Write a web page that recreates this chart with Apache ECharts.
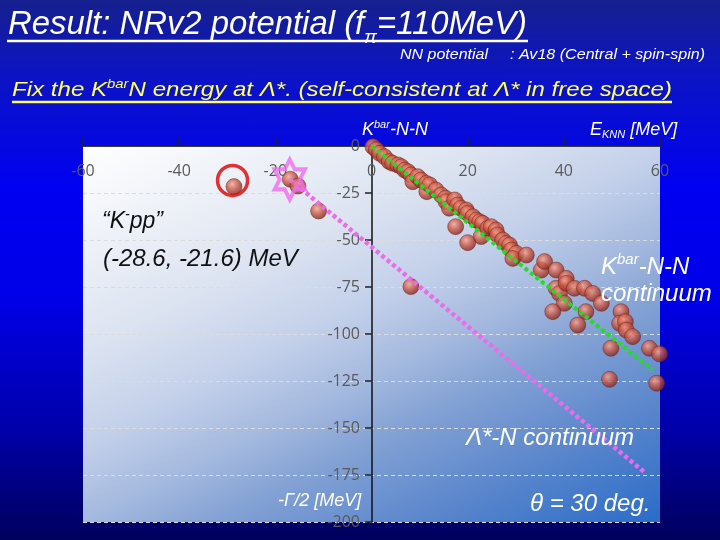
<!DOCTYPE html>
<html>
<head>
<meta charset="utf-8">
<script src="https://cdn.jsdelivr.net/npm/echarts@6/dist/echarts.min.js"></script>
<style>
html,body{margin:0;padding:0;}
body{background:linear-gradient(to bottom,#16208e 0%,#0c14c4 14%,#0000f2 35%,#0000e8 55%,#0000a8 80%,#00005e 100%);}
#main{width:720px;height:540px;}
</style>
</head>
<body>
<div id="main"></div>
<script>
var chart = echarts.init(document.getElementById('main'));

// eigenvalues: E_KNN [MeV] and -Γ/2 [MeV]
var pointE = [-28.6, -16.9, -15.3, -11,
  0.3, 1, 1.7, 2.7, 3.7, 4.4, 5.5, 6.2, 6.9, 7.6, 8.2, 8.6, 9.6, 10.3, 11.4, 11.5, 12.1, 13.4,
  14.5, 15.4, 15.5, 16.2, 17.3, 17.9, 18.6, 19.7, 20, 21.1, 21.8, 22.5, 23.1, 22.8, 24.2, 24.9,
  25.9, 26.2, 27.3, 28, 28.7, 29.1, 30.1, 29.4, 32.2, 35.3, 36, 38.4, 38.4, 39.1, 40.1, 40.5,
  40.5, 42.2, 44.3, 44.6, 46, 47.8, 37.7, 42.9, 51.9, 51.6, 52.8, 53, 54.3, 49.8, 57.8, 59.9,
  49.5, 59.3, 17.5, 20, 8.2];
var pointG = [-21.6, -17.7, -21.3, -34.6,
  -0.4, -2, -3.9, -5.7, -8.3, -9.2, -10.1, -11, -12.8, -13.7, -15.4, -19, -16.3, -18.1, -19.9, -24.3, -20.7, -23.4,
  -26.1, -27.8, -29.6, -33.1, -28.7, -31.4, -33.1, -34, -35.8, -37.6, -39.4, -40.3, -41.1, -48.2, -43.8, -42.9,
  -44.7, -47.3, -50, -51.8, -52.7, -55.3, -57.1, -59.8, -58, -66, -61.5, -66, -75.7, -78.4, -83.7, -70.4,
  -73, -75.7, -75.7, -88.1, -78.4, -83.7, -88.1, -95.2, -88.1, -94.3, -93.4, -97.9, -101.4, -107.6, -107.6, -110.6,
  -124.1, -126.2, -42.9, -51.4, -74.8];

// K-pp resonance (circled) and Λ* position (star)
var kppMark = [-28.9, -18.3];
var lambdaStar = [-17, -17.8];

// continuum lines
var lambdaLineE = [-17, 57];
var lambdaLineG = [-17.8, -174];
var knnLineE = [0, 58.4];
var knnLineG = [0, -119];

var xMin = -60, xMax = 60, xStep = 20;
var yMin = -200, yMax = 0, yStep = 25;

var pts = pointE.map(function (e, i) { return [e, pointG[i]]; });

var ctx = document.createElement('canvas').getContext('2d');
function textWidth(font, s) { ctx.font = font; return ctx.measureText(s).width; }

// text made of pieces [text, size, dy]; stretched to width if given
function run(x, y, parts, color, width) {
  var family = '"Liberation Sans", Arial, sans-serif';
  var total = 0;
  parts.forEach(function (p) { total += textWidth('italic ' + p[1] + 'px ' + family, p[0]); });
  var s = width ? width / total : 1;
  var els = [];
  parts.forEach(function (p) {
    var font = 'italic ' + p[1] + 'px ' + family;
    els.push({
      type: 'text', x: x, y: y + p[2], z: 100, scaleX: s,
      style: { text: p[0], font: font, fill: color, verticalAlign: 'middle', textVerticalAlign: 'middle' }
    });
    x += textWidth(font, p[0]) * s;
  });
  return { els: els, end: x };
}

var graphics = [];

var title = run(8, 25, [['Result: NRv2 potential (f', 33, 0], ['\u03c0', 19, 13], ['=110MeV)', 33, 0]], '#ffffff', 519);
graphics = graphics.concat(title.els);
graphics.push({ type: 'line', z: 100, shape: { x1: 7, y1: 41, x2: 528, y2: 41 }, style: { stroke: '#ffffff', lineWidth: 2.5 } });

graphics = graphics.concat(run(400, 55, [['NN potential', 14, 0]], '#ffffff', 88).els);
graphics = graphics.concat(run(510, 55, [[': Av18 (Central + spin-spin)', 14, 0]], '#ffffff', 195).els);

var fix = run(12, 90, [['Fix the K', 21, 0], ['bar', 13, -6], ['N energy at \u039b*. (self-consistent at \u039b* in free space)', 21, 0]], '#ffff66', 660);
graphics = graphics.concat(fix.els);
graphics.push({ type: 'line', z: 100, shape: { x1: 12, y1: 102, x2: 672, y2: 102 }, style: { stroke: '#ffff66', lineWidth: 2.5 } });

graphics = graphics.concat(run(362, 130, [['K', 18, 0], ['bar', 11, -5], ['-N-N', 18, 0]], '#ffffff').els);
graphics = graphics.concat(run(590, 130, [['E', 18, 0], ['KNN', 11, 5], [' [MeV]', 18, 0]], '#ffffff').els);
graphics = graphics.concat(run(601, 267, [['K', 24, 0], ['bar', 15, -7], ['-N-N', 24, 0]], '#ffffff').els);
graphics = graphics.concat(run(601, 294, [['continuum', 24, 0]], '#ffffff').els);
graphics = graphics.concat(run(466, 438, [['\u039b*-N continuum', 24, 0]], '#ffffff').els);
graphics = graphics.concat(run(530, 504, [['\u03b8 = 30 deg.', 24, 0]], '#ffffff').els);
graphics = graphics.concat(run(278, 501, [['-\u0393/2 [MeV]', 18, 0]], '#ffffff').els);
graphics = graphics.concat(run(102, 222, [['\u201cK', 23, 0], ['-', 14, -7], ['pp\u201d', 23, 0]], '#111111').els);
graphics = graphics.concat(run(103, 259, [['(-28.6, -21.6) MeV', 24, 0]], '#111111').els);

var ball = {
  type: 'radial', x: 0.4, y: 0.35, r: 0.7,
  colorStops: [
    { offset: 0, color: '#f5a898' },
    { offset: 0.45, color: '#cc5a46' },
    { offset: 1, color: '#74201a' }
  ]
};

var option = {
  animation: false,
  grid: {
    left: 83, right: 60, top: 146, bottom: 18,
    show: true, borderWidth: 0,
    backgroundColor: new echarts.graphic.LinearGradient(83, 146, 349, 678, [
      { offset: 0, color: '#ffffff' },
      { offset: 0.3, color: '#dde4f1' },
      { offset: 0.45, color: '#c3d0ea' },
      { offset: 0.57, color: '#a3b8de' },
      { offset: 0.66, color: '#84a2d4' },
      { offset: 0.82, color: '#5a86cc' },
      { offset: 1, color: '#2a6cc8' }
    ], true)
  },
  xAxis: {
    type: 'value', position: 'top', min: xMin, max: xMax, interval: xStep,
    axisLine: { show: true, onZero: false, lineStyle: { color: '#3a3a3a', width: 1 } },
    axisTick: { show: true, inside: false, length: 9, lineStyle: { color: '#222', width: 1.5 } },
    axisLabel: { inside: true, margin: 17, color: '#5a5a5a', fontSize: 16, fontFamily: 'Open Sans' },
    splitLine: { show: false }
  },
  yAxis: {
    type: 'value', min: yMin, max: yMax, interval: yStep,
    position: 'left', offset: -289,
    axisLine: { show: true, onZero: false, lineStyle: { color: '#111', width: 1.5 } },
    axisTick: { show: true, length: 7, lineStyle: { color: '#222', width: 1.5 } },
    axisLabel: { margin: 12, color: '#5a5a5a', fontSize: 16, fontFamily: 'Open Sans' },
    splitLine: { show: true, lineStyle: { color: '#dcdcdc', type: [4, 3], width: 1 } }
  },
  series: [
    {
      type: 'scatter', z: 2, data: pts, symbolSize: 16,
      itemStyle: { color: ball, borderColor: '#6e2218', borderWidth: 0.6 }
    },
    {
      type: 'line', z: 3, showSymbol: false, symbol: 'none',
      data: knnLineE.map(function (e, i) { return [e, knnLineG[i]]; }),
      lineStyle: { color: '#22dd22', width: 4, type: [4, 3] }
    },
    {
      type: 'line', z: 3, showSymbol: false, symbol: 'none',
      data: lambdaLineE.map(function (e, i) { return [e, lambdaLineG[i]]; }),
      lineStyle: { color: '#ea6cea', width: 4.5, type: [4, 3] }
    },
    {
      type: 'scatter', z: 4, data: [lambdaStar],
      symbol: 'path://M500,0 L644,250 L933,250 L789,500 L933,750 L644,750 L500,1000 L356,750 L67,750 L211,500 L67,250 L356,250 Z',
      symbolSize: [35, 40], symbolKeepAspect: true,
      itemStyle: { color: 'rgba(0,0,0,0)', borderColor: '#f06cf0', borderWidth: 4 }
    },
    {
      type: 'scatter', z: 4, data: [kppMark], symbol: 'circle', symbolSize: 30,
      itemStyle: { color: 'rgba(0,0,0,0)', borderColor: '#e00000', borderWidth: 3.5 }
    }
  ],
  graphic: graphics
};

chart.setOption(option);
</script>
</body>
</html>
